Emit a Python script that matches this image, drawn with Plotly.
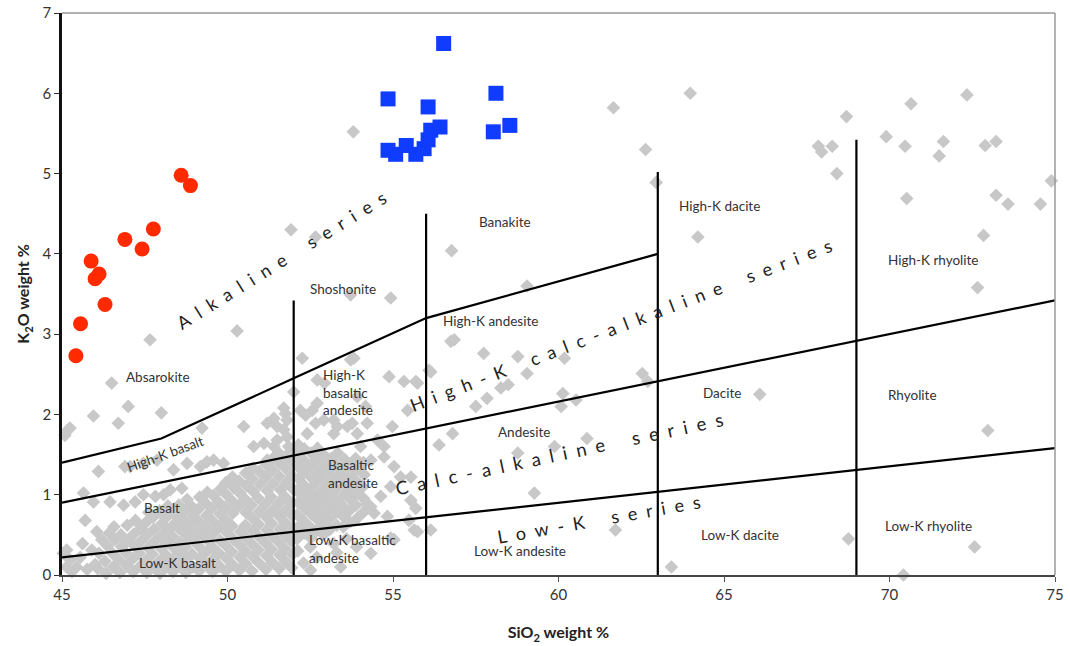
import plotly.graph_objects as go

# ---------------- data ----------------
red_sio2 = [45.42, 45.56, 45.88, 46.0, 46.12, 46.3, 46.9, 47.42, 47.76, 48.6, 48.88]
red_k2o = [2.73, 3.13, 3.91, 3.69, 3.75, 3.37, 4.18, 4.06, 4.31, 4.98, 4.85]

blue_sio2 = [56.53, 54.85, 56.06, 58.11, 58.03, 58.53, 54.85, 55.08, 55.4, 55.69, 55.94, 56.06, 56.14, 56.42]
blue_k2o = [6.62, 5.93, 5.83, 6.0, 5.52, 5.6, 5.29, 5.24, 5.35, 5.24, 5.31, 5.42, 5.54, 5.58]

# background (grey) samples
gray_sparse = [
    (61.66, 5.82), (63.98, 6.0), (62.63, 5.30), (62.95, 4.89), (64.21, 4.21), (67.85, 5.34), (67.95, 5.27),
    (68.27, 5.34), (68.7, 5.71), (68.41, 5.0), (69.9, 5.46), (70.47, 5.34), (70.65, 5.87), (71.63, 5.40),
    (71.5, 5.22), (72.34, 5.98), (72.89, 5.35), (73.22, 5.40), (70.52, 4.69), (73.22, 4.73), (73.58, 4.62),
    (74.56, 4.62), (74.89, 4.91), (72.84, 4.23), (72.66, 3.58), (62.53, 2.51), (62.7, 2.41), (66.08, 2.25),
    (72.97, 1.80), (61.72, 0.56), (63.41, 0.10), (68.76, 0.45), (72.57, 0.35), (70.42, 0.0),
    (56.77, 4.04), (59.05, 3.60), (56.75, 2.91), (56.85, 2.93), (57.74, 2.76), (58.77, 2.72), (60.18, 2.70),
    (59.05, 2.51), (58.26, 2.33), (58.48, 2.37), (57.84, 2.20), (57.5, 2.10), (60.13, 2.26), (60.08, 2.10),
    (60.53, 2.18), (56.14, 2.53), (56.8, 1.76), (56.39, 1.62), (60.86, 1.70), (58.77, 1.52), (59.88, 1.60),
    (59.27, 1.02), (56.14, 0.56),
    (53.8, 5.52), (54.93, 3.45), (47.66, 2.93), (50.29, 3.04), (46.5, 2.39), (51.92, 4.30), (52.66, 4.21),
    (53.72, 3.49),
    (47.0, 2.10), (45.95, 1.98), (46.7, 1.89), (48.0, 2.02), (49.23, 1.83), (50.49, 1.85), (45.19, 1.81),
    (45.09, 1.74), (45.24, 1.83),
    (52.26, 2.70), (52.0, 2.28), (51.7, 2.08), (51.4, 1.95), (51.2, 1.89), (51.5, 1.85), (51.8, 1.93),
    (50.79, 1.60), (51.1, 1.64), (51.5, 1.68), (51.8, 1.72), (52.56, 2.05), (52.66, 1.89), (52.41, 1.76),
    (53.72, 2.68), (53.21, 1.93), (53.62, 1.85), (53.21, 1.76), (52.93, 2.39), (52.71, 2.43),
    (46.1, 1.29), (46.9, 1.35), (47.46, 1.39), (47.87, 1.43), (48.37, 1.31), (48.78, 1.39), (49.18, 1.35),
    (49.58, 1.43), (49.88, 1.39), (47.06, 1.35),
    (45.65, 1.02), (45.95, 0.91), (46.45, 0.91), (46.86, 0.87), (47.21, 0.91), (47.82, 0.98), (48.07, 1.0),
    (48.62, 1.08), (48.93, 0.85), (47.46, 1.0), (48.27, 1.06),
    (45.7, 0.68), (46.05, 0.54), (45.04, 0.27), (45.14, 0.10), (45.14, 0.31), (45.24, 0.19), (45.44, 0.10),
    (45.3, 0.04), (45.55, 0.22), (45.76, 0.07), (45.9, 0.31), (46.0, 0.13), (45.62, 0.39),
    (54.88, 2.47), (55.33, 2.41), (55.69, 2.41), (54.98, 1.85), (54.02, 1.6), (54.73, 1.6), (55.03, 1.35),
    (55.54, 1.22), (55.69, 0.83), (55.48, 0.68), (55.74, 0.54), (55.03, 0.44), (54.83, 0.73), (54.33, 0.85),
    (56.09, 2.55), (53.82, 2.70), (53.92, 2.22), (54.17, 2.10), (54.22, 1.89), (55.74, 2.39), (52.2, 2.05),
    (52.36, 1.99), (52.71, 2.14), (52.91, 1.93), (53.32, 1.85), (53.77, 1.89), (53.92, 1.76), (54.53, 1.68),
    (55.44, 2.05), (54.33, 1.43), (54.73, 1.47), (54.22, 0.89), (54.43, 0.77), (54.63, 0.98), (54.93, 1.1),
    (55.23, 1.22), (55.54, 0.93), (55.64, 0.56), (54.93, 0.46), (53.21, 0.39), (54.33, 0.27), (52.51, 0.06),
    (53.42, 0.10), (51.75, 2.01), (51.7, 1.81), (51.85, 1.6), (51.4, 1.6), (51.6, 1.47), (51.2, 1.43),
    (49.38, 1.41),
]

gray_cluster = [
    (46.08, 0.08), (46.12, 0.27), (46.2, 0.44),
    (46.33, 0.02), (46.3, 0.17), (46.38, 0.36), (46.42, 0.52),
    (46.55, 0.1), (46.52, 0.27), (46.6, 0.44), (46.57, 0.6),
    (46.75, 0.03), (46.72, 0.19), (46.8, 0.35), (46.78, 0.5),
    (46.95, 0.12), (46.92, 0.28), (47.0, 0.43), (46.97, 0.62),
    (47.15, 0.04), (47.13, 0.2), (47.2, 0.36), (47.17, 0.51), (47.22, 0.68),
    (47.36, 0.11), (47.33, 0.27), (47.4, 0.43), (47.38, 0.58),
    (47.56, 0.03), (47.53, 0.18), (47.6, 0.34), (47.57, 0.5), (47.55, 0.66), (47.62, 0.78),
    (47.76, 0.1), (47.73, 0.26), (47.8, 0.42), (47.78, 0.57), (47.75, 0.72),
    (47.96, 0.02), (47.94, 0.17), (48.0, 0.33), (47.97, 0.48), (48.02, 0.64), (47.95, 0.8),
    (48.16, 0.1), (48.14, 0.25), (48.2, 0.41), (48.17, 0.56), (48.13, 0.71), (48.2, 0.86),
    (48.35, 0.04), (48.33, 0.19), (48.37, 0.34), (48.34, 0.48), (48.38, 0.63), (48.36, 0.77),
    (48.56, 0.12), (48.54, 0.27), (48.58, 0.41), (48.55, 0.57), (48.57, 0.71), (48.53, 0.87),
    (48.74, 0.03), (48.76, 0.2), (48.73, 0.35), (48.77, 0.5), (48.75, 0.65), (48.72, 0.8), (48.78, 0.94),
    (48.95, 0.1), (48.93, 0.26), (48.97, 0.43), (48.94, 0.58), (48.96, 0.73),
    (49.14, 0.05), (49.16, 0.21), (49.13, 0.36), (49.17, 0.51), (49.15, 0.66), (49.12, 0.82), (49.16, 0.97),
    (49.36, 0.13), (49.34, 0.28), (49.38, 0.44), (49.35, 0.59), (49.37, 0.74), (49.33, 0.9), (49.39, 1.03),
    (49.55, 0.04), (49.57, 0.2), (49.54, 0.35), (49.58, 0.52), (49.56, 0.67), (49.53, 0.83), (49.57, 0.99),
    (49.76, 0.11), (49.74, 0.27), (49.78, 0.43), (49.75, 0.6), (49.77, 0.76), (49.73, 0.91), (49.79, 1.07),
    (49.95, 0.05), (49.97, 0.21), (49.94, 0.37), (49.98, 0.53), (49.96, 0.68), (49.93, 0.84), (49.97, 1.0),
    (49.95, 1.15),
    (50.15, 0.13), (50.13, 0.29), (50.17, 0.45), (50.14, 0.61), (50.16, 0.77), (50.12, 0.93), (50.18, 1.09),
    (50.15, 1.22),
    (50.36, 0.06), (50.38, 0.22), (50.35, 0.38), (50.39, 0.54), (50.34, 0.86), (50.37, 1.02), (50.35, 1.17),
    (50.55, 0.14), (50.53, 0.3), (50.57, 0.46), (50.54, 0.62), (50.56, 0.78), (50.52, 0.95), (50.58, 1.11),
    (50.55, 1.27),
    (50.74, 0.05), (50.76, 0.23), (50.73, 0.39), (50.77, 0.55), (50.75, 0.71), (50.72, 0.87), (50.78, 1.04),
    (50.74, 1.2), (50.76, 1.33),
    (50.95, 0.15), (50.93, 0.31), (50.97, 0.47), (50.94, 0.63), (50.96, 0.79), (50.92, 0.96), (50.98, 1.13),
    (50.95, 1.29),
    (51.16, 0.07), (51.18, 0.24), (51.15, 0.4), (51.19, 0.56), (51.17, 0.72), (51.14, 0.88), (51.2, 1.05),
    (51.16, 1.22), (51.18, 1.37),
    (51.35, 0.16), (51.33, 0.32), (51.37, 0.48), (51.34, 0.64), (51.36, 0.8), (51.32, 0.97), (51.38, 1.14),
    (51.35, 1.31), (51.37, 1.45),
    (51.56, 0.08), (51.58, 0.25), (51.55, 0.41), (51.59, 0.57), (51.57, 0.73), (51.54, 0.89), (51.6, 1.06),
    (51.56, 1.23), (51.58, 1.39), (51.55, 1.52),
    (51.75, 0.17), (51.73, 0.33), (51.77, 0.49), (51.74, 0.65), (51.76, 0.81), (51.72, 0.98), (51.78, 1.15),
    (51.75, 1.33), (51.77, 1.48),
    (51.94, 0.09), (51.96, 0.26), (51.93, 0.42), (51.97, 0.58), (51.95, 0.74), (51.92, 0.9), (51.98, 1.07),
    (51.94, 1.24), (51.96, 1.41), (51.93, 1.56),
    (52.12, 0.3), (52.1, 0.45), (52.14, 0.6), (52.11, 0.75), (52.13, 0.9), (52.1, 1.05), (52.15, 1.2),
    (52.12, 1.35), (52.1, 1.5), (52.14, 1.62),
    (52.3, 0.15), (52.32, 0.52), (52.29, 0.68), (52.33, 0.83), (52.31, 0.98), (52.28, 1.13), (52.34, 1.28),
    (52.3, 1.43), (52.32, 1.57),
    (52.5, 0.35), (52.52, 0.46), (52.49, 0.6), (52.53, 0.76), (52.51, 0.91), (52.48, 1.06), (52.54, 1.21),
    (52.5, 1.36), (52.52, 1.52),
    (52.7, 0.22), (52.68, 0.55), (52.72, 0.69), (52.69, 0.84), (52.71, 0.99), (52.67, 1.14), (52.73, 1.29),
    (52.7, 1.44), (52.72, 1.58),
    (52.9, 0.5), (52.88, 0.62), (52.92, 0.77), (52.89, 0.92), (52.91, 1.07), (52.87, 1.22), (52.93, 1.37),
    (52.9, 1.5),
    (53.1, 0.57), (53.08, 0.7), (53.12, 0.85), (53.09, 1.0), (53.11, 1.15), (53.07, 1.3), (53.13, 1.45),
    (53.3, 0.28), (53.3, 0.62), (53.28, 0.78), (53.32, 0.93), (53.29, 1.08), (53.31, 1.23), (53.27, 1.38),
    (53.33, 1.52),
    (53.5, 0.6), (53.52, 0.72), (53.49, 0.86), (53.53, 1.01), (53.51, 1.16), (53.48, 1.31), (53.54, 1.44),
    (53.6, 0.45), (53.7, 0.66), (53.68, 0.8), (53.72, 0.94), (53.69, 1.09), (53.71, 1.24), (53.67, 1.38),
    (53.9, 0.35), (53.9, 0.7), (53.88, 0.87), (53.92, 1.02), (53.89, 1.17), (53.91, 1.32), (53.87, 1.45),
    (54.1, 0.78), (54.12, 0.95), (54.09, 1.1), (54.13, 1.25), (54.11, 1.4),
]

gray_points = gray_sparse + gray_cluster
gray_sio2 = [p[0] for p in gray_points]
gray_k2o = [p[1] for p in gray_points]

# classification boundaries
lowk_x = [45, 75]
lowk_y = [0.22, 1.58]
highk_x = [45, 75]
highk_y = [0.9, 3.42]
shosh_x = [45, 48, 52, 56, 63]
shosh_y = [1.4, 1.7, 2.45, 3.2, 4.0]
vert_x = [52, 56, 63, 69]
vert_top = [3.42, 4.5, 5.02, 5.42]

# field labels
field_labels = ["Absarokite", "Shoshonite", "Banakite", "High-K dacite", "High-K rhyolite", "High-K andesite",
                "Basalt", "Low-K basalt", "Andesite", "Low-K andesite", "Dacite", "Low-K dacite",
                "Rhyolite", "Low-K rhyolite"]
field_x = [47.9, 53.48, 58.38, 64.86, 71.31, 57.96, 48.03, 48.48, 58.96, 58.84, 64.95, 65.47, 70.7, 71.19]
field_y = [2.47, 3.56, 4.40, 4.60, 3.92, 3.16, 0.83, 0.15, 1.78, 0.30, 2.27, 0.50, 2.24, 0.61]

left_labels = ["High-K<br>basaltic<br>andesite", "Basaltic<br>andesite", "Low-K basaltic<br>andesite"]
left_x = [52.83, 52.99, 52.39]
left_y = [2.27, 1.26, 0.32]

SP = "\u2002"


def spaced(s):
    words = s.split(" ")
    return (SP * 3).join(SP.join(list(w)) for w in words)


series_labels = ["Alkaline series", "High-K calc-alkaline series", "Calc-alkaline series", "Low-K series"]
series_x = [51.63, 61.89, 60.0, 61.23]
series_y = [3.92, 3.11, 1.51, 0.70]
series_angle = [-32, -21, -12, -10]
series_size = [18, 18, 18.5, 18]

# ---------------- figure ----------------
fig = go.Figure()

fig.add_trace(go.Scatter(x=gray_sio2, y=gray_k2o, mode="markers", cliponaxis=False,
                         marker=dict(symbol="diamond", size=10.5, color="#c8c8c8"), hoverinfo="skip"))

line_style = dict(color="black", width=2.2)
fig.add_trace(go.Scatter(x=lowk_x, y=lowk_y, mode="lines", line=line_style))
fig.add_trace(go.Scatter(x=highk_x, y=highk_y, mode="lines", line=line_style))
fig.add_trace(go.Scatter(x=shosh_x, y=shosh_y, mode="lines", line=line_style))
for vx, vt in zip(vert_x, vert_top):
    fig.add_trace(go.Scatter(x=[vx, vx], y=[0, vt], mode="lines", line=line_style))

fig.add_trace(go.Scatter(x=red_sio2, y=red_k2o, mode="markers",
                         marker=dict(symbol="circle", size=15, color="#ff2a00")))
fig.add_trace(go.Scatter(x=blue_sio2, y=blue_k2o, mode="markers",
                         marker=dict(symbol="square", size=15, color="#0f3cff")))

label_font = dict(family="Lato", size=13.5, color="#333")
for t, x, y in zip(field_labels, field_x, field_y):
    fig.add_annotation(x=x, y=y, text=t, showarrow=False, font=label_font)
for t, x, y in zip(left_labels, left_x, left_y):
    fig.add_annotation(x=x, y=y, text=t, showarrow=False, xanchor="left", align="left", font=label_font)
fig.add_annotation(x=48.12, y=1.51, text="High-K basalt", showarrow=False, textangle=-20, font=label_font)
for t, x, y, a, s in zip(series_labels, series_x, series_y, series_angle, series_size):
    fig.add_annotation(x=x, y=y, text=spaced(t), showarrow=False, textangle=a,
                       font=dict(family="Lato", size=s, color="#222"))

# top and right frame (grey)
fig.add_shape(type="line", xref="paper", yref="paper", x0=0, x1=1, y0=1, y1=1, line=dict(color="#999", width=1.5))
fig.add_shape(type="line", xref="paper", yref="paper", x0=1, x1=1, y0=0, y1=1, line=dict(color="#999", width=1.5))

fig.update_layout(
    width=1070, height=646, showlegend=False,
    plot_bgcolor="white", paper_bgcolor="white",
    margin=dict(l=62, r=15, t=13, b=71),
    font=dict(family="Lato", color="#333"),
)
fig.update_xaxes(range=[45, 75], tickvals=[45, 50, 55, 60, 65, 70, 75], ticks="outside", ticklen=5,
                 tickcolor="#555", showline=True, linecolor="#444", linewidth=2, showgrid=False,
                 zeroline=False, tickfont=dict(size=15, color="#333"), automargin=False,
                 title=dict(text="<b>SiO<sub>2</sub> weight %</b>", font=dict(size=16, color="#222"), standoff=25))
fig.update_yaxes(range=[0, 7], dtick=1, ticks="outside", ticklen=5, tickcolor="#333", showline=True,
                 linecolor="#111", linewidth=2.5, showgrid=False, zeroline=False, automargin=False,
                 tickfont=dict(size=15, color="#333"),
                 title=dict(text="<b>K<sub>2</sub>O weight %</b>", font=dict(size=16, color="#222"), standoff=9))

# remove the default 8px page margin so the figure fills the 1070x646 window exactly
fig.write_html("out.html", config={"displayModeBar": False},
               post_script="document.body.style.margin='0px';document.body.style.overflow='hidden';")
